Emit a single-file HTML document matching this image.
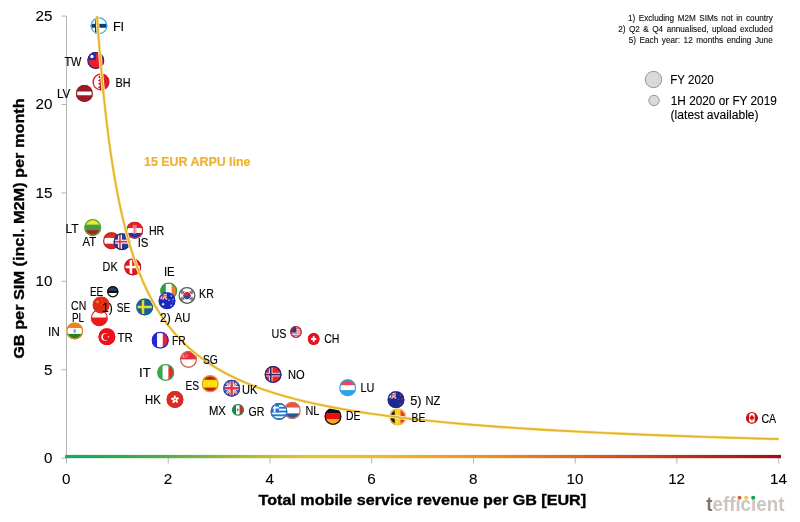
<!DOCTYPE html>
<html><head><meta charset="utf-8"><title>GB per SIM vs revenue per GB</title>
<style>html,body{margin:0;padding:0;background:#fff}svg{display:block;will-change:transform}text{font-family:"Liberation Sans",sans-serif}</style></head><body>
<svg width="800" height="522" viewBox="0 0 800 522">
<defs><clipPath id="c"><circle r="10"/></clipPath>
<linearGradient id="g" x1="66" x2="781" y1="0" y2="0" gradientUnits="userSpaceOnUse">
<stop offset="0" stop-color="#16a85e"/>
<stop offset="0.07" stop-color="#2ca854"/>
<stop offset="0.14" stop-color="#56ac46"/>
<stop offset="0.21" stop-color="#8cb43e"/>
<stop offset="0.28" stop-color="#c0bc36"/>
<stop offset="0.34" stop-color="#e2c434"/>
<stop offset="0.43" stop-color="#f2ba2c"/>
<stop offset="0.5" stop-color="#f0a828"/>
<stop offset="0.58" stop-color="#e89428"/>
<stop offset="0.71" stop-color="#d86a22"/>
<stop offset="0.85" stop-color="#c2341a"/>
<stop offset="1" stop-color="#a00c18"/>
</linearGradient><filter id="soft" x="-5%" y="-5%" width="110%" height="110%"><feGaussianBlur stdDeviation="0.35"/></filter></defs>
<rect width="800" height="522" fill="#fff"/>
<path d="M66.5,16V463.5" stroke="#b4b4b4" stroke-width="1" fill="none"/>
<path d="M61.5,458.1H66.5" stroke="#b4b4b4" stroke-width="1"/>
<path d="M61.5,369.7H66.5" stroke="#b4b4b4" stroke-width="1"/>
<path d="M61.5,281.3H66.5" stroke="#b4b4b4" stroke-width="1"/>
<path d="M61.5,192.9H66.5" stroke="#b4b4b4" stroke-width="1"/>
<path d="M61.5,104.5H66.5" stroke="#b4b4b4" stroke-width="1"/>
<path d="M61.5,16.1H66.5" stroke="#b4b4b4" stroke-width="1"/>
<path d="M168.2,458V463.5" stroke="#b4b4b4" stroke-width="1"/>
<path d="M270.0,458V463.5" stroke="#b4b4b4" stroke-width="1"/>
<path d="M371.7,458V463.5" stroke="#b4b4b4" stroke-width="1"/>
<path d="M473.5,458V463.5" stroke="#b4b4b4" stroke-width="1"/>
<path d="M575.2,458V463.5" stroke="#b4b4b4" stroke-width="1"/>
<path d="M676.9,458V463.5" stroke="#b4b4b4" stroke-width="1"/>
<path d="M778.7,458V463.5" stroke="#b4b4b4" stroke-width="1"/>
<rect x="65.2" y="454.9" width="715.8" height="3.3" fill="url(#g)"/>
<g font-size="15.2" fill="#000" stroke="#000" stroke-width="0.1">
<text x="52.5" y="463.0" text-anchor="end">0</text>
<text x="52.5" y="374.6" text-anchor="end">5</text>
<text x="52.5" y="286.2" text-anchor="end">10</text>
<text x="52.5" y="197.8" text-anchor="end">15</text>
<text x="52.5" y="109.4" text-anchor="end">20</text>
<text x="52.5" y="21.0" text-anchor="end">25</text>
<text x="66.2" y="483.6" text-anchor="middle">0</text>
<text x="167.9" y="483.6" text-anchor="middle">2</text>
<text x="269.7" y="483.6" text-anchor="middle">4</text>
<text x="371.4" y="483.6" text-anchor="middle">6</text>
<text x="473.2" y="483.6" text-anchor="middle">8</text>
<text x="574.9" y="483.6" text-anchor="middle">10</text>
<text x="676.6" y="483.6" text-anchor="middle">12</text>
<text x="778.4" y="483.6" text-anchor="middle">14</text>
</g>
<text x="258.6" y="504.5" font-size="15" font-weight="bold" fill="#000" stroke="#000" stroke-width="0.35" textLength="327.5" lengthAdjust="spacingAndGlyphs">Total mobile service revenue per GB [EUR]</text>
<text transform="translate(24.2,358.8) rotate(-90)" font-size="15.3" font-weight="bold" fill="#000" stroke="#000" stroke-width="0.35" textLength="260.5" lengthAdjust="spacingAndGlyphs">GB per SIM (incl. M2M) per month</text>
<g font-size="8.2" fill="#111" stroke="#111" stroke-width="0.12" text-anchor="end">
<text x="772.8" y="21.00" textLength="144.8" lengthAdjust="spacingAndGlyphs" word-spacing="1.2">1) Excluding M2M SIMs not in country</text>
<text x="772.8" y="31.75" textLength="154.6" lengthAdjust="spacingAndGlyphs" word-spacing="1.2">2) Q2 &amp; Q4 annualised, upload excluded</text>
<text x="772.8" y="42.50" textLength="144.1" lengthAdjust="spacingAndGlyphs" word-spacing="1.2">5) Each year: 12 months ending June</text>
</g>
<circle cx="653.5" cy="79.5" r="8.2" fill="#d9d9d9" stroke="#8c8c8c" stroke-width="0.9"/>
<circle cx="654" cy="100.5" r="5.2" fill="#d9d9d9" stroke="#8c8c8c" stroke-width="0.9"/>
<g font-size="12.3" fill="#000" stroke="#000" stroke-width="0.12">
<text x="670.3" y="83.8" textLength="43.5" lengthAdjust="spacingAndGlyphs">FY 2020</text>
<text x="670.8" y="105.0" textLength="106" lengthAdjust="spacingAndGlyphs">1H 2020 or FY 2019</text>
<text x="670.6" y="119.4" textLength="88" lengthAdjust="spacingAndGlyphs">(latest available)</text>
</g>
<text x="144" y="166.1" font-size="12.2" font-weight="bold" fill="#f0b22c" stroke="#f0b22c" stroke-width="0.2" textLength="106.5" lengthAdjust="spacingAndGlyphs">15 EUR ARPU line</text>
<g filter="url(#soft)">
<g transform="translate(99.0,25.8) scale(0.850)"><g clip-path="url(#c)"><rect x="-10" y="-10" width="20" height="20" fill="#fff"/><rect x="-10" y="-2.3" width="20" height="4.6" fill="#0b3c80"/><rect x="-4.699999999999999" y="-10" width="4.6" height="20" fill="#0b3c80"/></g><circle r="9.26" fill="none" stroke="#3fa8dc" stroke-width="1.47"/></g>
<g transform="translate(95.8,60.4) scale(0.850)"><g clip-path="url(#c)"><rect x="-10" y="-10" width="20" height="20" fill="#ee1c25"/><rect x="-10" y="-10" width="10" height="9.5" fill="#2a2a9c"/><circle cx="-4.6" cy="-4.6" r="2.0" fill="#fff"/></g><circle r="9.26" fill="none" stroke="#2a2a9c" stroke-width="1.47"/></g>
<g transform="translate(101.0,82.1) scale(0.850)"><g clip-path="url(#c)"><rect x="-10" y="-10" width="20" height="20" fill="#d8202c"/><path d="M-10,-10H-3.6L-0.8,-8.0L-3.6,-6.0L-0.8,-4.0L-3.6,-2.0L-0.8,0.0L-3.6,2.0L-0.8,4.0L-3.6,6.0L-0.8,8.0L-3.6,10.0H-10Z" fill="#fff"/></g><circle r="9.26" fill="none" stroke="#d8202c" stroke-width="1.47"/></g>
<g transform="translate(84.4,93.4) scale(0.850)"><g clip-path="url(#c)"><rect x="-10" y="-10" width="20" height="20" fill="#9c1a28"/><rect x="-10" y="-2.2" width="20" height="4.4" fill="#fff"/></g><circle r="9.26" fill="none" stroke="#9c1a28" stroke-width="1.47"/></g>
<g transform="translate(92.7,227.5) scale(0.850)"><g clip-path="url(#c)"><rect x="-10" y="-10.00" width="20" height="6.90" fill="#f4e624"/><rect x="-10" y="-3.40" width="20" height="6.70" fill="#3f9e44"/><rect x="-10" y="3.00" width="20" height="7.30" fill="#a8242c"/></g><circle r="9.26" fill="none" stroke="#4cae3c" stroke-width="1.47"/></g>
<g transform="translate(111.5,240.8) scale(0.850)"><g clip-path="url(#c)"><rect x="-10" y="-10.00" width="20" height="6.90" fill="#de3018"/><rect x="-10" y="-3.40" width="20" height="7.10" fill="#fff"/><rect x="-10" y="3.40" width="20" height="6.90" fill="#d62222"/></g><circle r="9.26" fill="none" stroke="#bc261c" stroke-width="1.47"/></g>
<g transform="translate(122.0,241.7) scale(0.850)"><g clip-path="url(#c)"><rect x="-10" y="-10" width="20" height="20" fill="#1e3c9c"/><rect x="-10" y="-2.4" width="20" height="4.8" fill="#f2e2ea"/><rect x="-4.8" y="-10" width="4.8" height="20" fill="#f2e2ea"/><rect x="-10" y="-0.9" width="20" height="1.8" fill="#dc3040"/><rect x="-3.3" y="-10" width="1.8" height="20" fill="#dc3040"/></g><circle r="9.26" fill="none" stroke="#1c2c84" stroke-width="1.47"/></g>
<g transform="translate(134.7,230.2) scale(0.850)"><g clip-path="url(#c)"><rect x="-10" y="-10.00" width="20" height="7.90" fill="#dc2428"/><rect x="-10" y="-2.40" width="20" height="5.90" fill="#fff"/><rect x="-10" y="3.20" width="20" height="7.10" fill="#22349c"/><rect x="-2.4" y="-2.4" width="4.8" height="6.2" rx="1" fill="#f4b8bc"/><rect x="-2.4" y="-6.2" width="4.8" height="3.8" fill="#e67478"/><rect x="-0.8" y="-2.4" width="1.6" height="6.2" fill="#e8848c"/></g><circle r="9.26" fill="none" stroke="#d8242c" stroke-width="1.47"/></g>
<g transform="translate(132.7,267.0) scale(0.850)"><g clip-path="url(#c)"><rect x="-10" y="-10" width="20" height="20" fill="#e41418"/><rect x="-10" y="-1.5" width="20" height="3.0" fill="#fff"/><rect x="-3.6" y="-10" width="3.0" height="20" fill="#fff"/></g><circle r="9.26" fill="none" stroke="#d41418" stroke-width="1.47"/></g>
<g transform="translate(112.8,291.7) scale(0.570)"><g clip-path="url(#c)"><rect x="-10" y="-10.00" width="20" height="7.70" fill="#1c3c84"/><rect x="-10" y="-2.60" width="20" height="5.30" fill="#111"/><rect x="-10" y="2.40" width="20" height="7.90" fill="#fff"/></g><circle r="8.90" fill="none" stroke="#111" stroke-width="2.19"/></g>
<g transform="translate(99.3,317.7) scale(0.850)"><g clip-path="url(#c)"><rect x="-10" y="-10.00" width="20" height="10.10" fill="#fff"/><rect x="-10" y="-0.20" width="20" height="10.50" fill="#f41418"/></g><circle r="9.26" fill="none" stroke="#e0242c" stroke-width="1.47"/></g>
<g transform="translate(101.1,305.1) scale(0.850)"><g clip-path="url(#c)"><rect x="-10" y="-10" width="20" height="20" fill="#de2c14"/><polygon points="-4.20,-6.30 -3.66,-4.74 -2.01,-4.71 -3.33,-3.72 -2.85,-2.14 -4.20,-3.08 -5.55,-2.14 -5.07,-3.72 -6.39,-4.71 -4.74,-4.74" fill="#f0a028"/><polygon points="0.20,-7.80 0.39,-7.26 0.96,-7.25 0.50,-6.90 0.67,-6.35 0.20,-6.68 -0.27,-6.35 -0.10,-6.90 -0.56,-7.25 0.01,-7.26" fill="#f09028"/><polygon points="2.20,-5.60 2.39,-5.06 2.96,-5.05 2.50,-4.70 2.67,-4.15 2.20,-4.48 1.73,-4.15 1.90,-4.70 1.44,-5.05 2.01,-5.06" fill="#f09028"/><polygon points="2.20,-2.60 2.39,-2.06 2.96,-2.05 2.50,-1.70 2.67,-1.15 2.20,-1.48 1.73,-1.15 1.90,-1.70 1.44,-2.05 2.01,-2.06" fill="#f09028"/><polygon points="0.20,-0.60 0.39,-0.06 0.96,-0.05 0.50,0.30 0.67,0.85 0.20,0.52 -0.27,0.85 -0.10,0.30 -0.56,-0.05 0.01,-0.06" fill="#f09028"/></g><circle r="9.26" fill="none" stroke="#d8301c" stroke-width="1.47"/></g>
<g transform="translate(74.7,331.0) scale(0.850)"><g clip-path="url(#c)"><rect x="-10" y="-10.00" width="20" height="6.90" fill="#f08418"/><rect x="-10" y="-3.40" width="20" height="7.10" fill="#fff"/><rect x="-10" y="3.40" width="20" height="6.90" fill="#228424"/><ellipse rx="1.5" ry="2.3" fill="#909cbc"/></g><circle r="9.26" fill="none" stroke="#e48a2c" stroke-width="1.47"/></g>
<g transform="translate(106.9,336.8) scale(0.850)"><g clip-path="url(#c)"><rect x="-10" y="-10" width="20" height="20" fill="#f0101a"/><circle cx="-2.2" cy="0.2" r="4.3" fill="#fff"/><circle cx="-1.0" cy="0.2" r="3.7" fill="#f0101a"/><polygon points="3.04,-0.30 2.29,0.26 2.56,1.15 1.80,0.62 1.04,1.15 1.31,0.26 0.56,-0.30 1.49,-0.32 1.80,-1.20 2.11,-0.32" fill="#fff"/></g><circle r="9.26" fill="none" stroke="#f0101a" stroke-width="1.47"/></g>
<g transform="translate(144.7,307.0) scale(0.850)"><g clip-path="url(#c)"><rect x="-10" y="-10" width="20" height="20" fill="#14609c"/><rect x="-10" y="-1.5" width="20" height="3.0" fill="#f0d830"/><rect x="-3.5" y="-10" width="3.0" height="20" fill="#f0d830"/></g><circle r="9.26" fill="none" stroke="#14609c" stroke-width="1.47"/></g>
<g transform="translate(168.7,291.1) scale(0.850)"><g clip-path="url(#c)"><rect y="-10" x="-10.00" height="20" width="6.90" fill="#2f9c3c"/><rect y="-10" x="-3.40" height="20" width="7.10" fill="#fff"/><rect y="-10" x="3.40" height="20" width="6.90" fill="#f27c28"/></g><circle r="9.26" fill="none" stroke="#36a044" stroke-width="1.47"/></g>
<g transform="translate(167.0,300.7) scale(0.850)"><g clip-path="url(#c)"><rect x="-10" y="-10" width="20" height="20" fill="#1c2cbc"/><g transform="translate(-10,-10)"><rect width="10" height="8.5" fill="#1c2cbc"/><path d="M0,0L10,8.5M10,0L0,8.5" stroke="#fff" stroke-width="1.87"/><path d="M0,0L10,8.5M10,0L0,8.5" stroke="#e03040" stroke-width="0.68"/><path d="M5.0,0V8.5M0,4.25H10" stroke="#fff" stroke-width="2.89"/><path d="M5.0,0V8.5M0,4.25H10" stroke="#e03040" stroke-width="1.53"/></g><polygon points="-4.60,2.20 -4.17,3.30 -3.04,2.95 -3.63,3.98 -2.65,4.65 -3.82,4.82 -3.73,6.00 -4.60,5.20 -5.47,6.00 -5.38,4.82 -6.55,4.65 -5.57,3.98 -6.16,2.95 -5.03,3.30" fill="#fff"/><polygon points="5.00,-6.70 5.24,-6.10 5.86,-6.29 5.54,-5.72 6.07,-5.36 5.43,-5.26 5.48,-4.61 5.00,-5.05 4.52,-4.61 4.57,-5.26 3.93,-5.36 4.46,-5.72 4.14,-6.29 4.76,-6.10" fill="#fff"/><polygon points="2.40,-1.70 2.64,-1.10 3.26,-1.29 2.94,-0.72 3.47,-0.36 2.83,-0.26 2.88,0.39 2.40,-0.05 1.92,0.39 1.97,-0.26 1.33,-0.36 1.86,-0.72 1.54,-1.29 2.16,-1.10" fill="#fff"/><polygon points="7.20,-2.60 7.42,-2.05 7.98,-2.22 7.69,-1.71 8.17,-1.38 7.59,-1.29 7.63,-0.70 7.20,-1.10 6.77,-0.70 6.81,-1.29 6.23,-1.38 6.71,-1.71 6.42,-2.22 6.98,-2.05" fill="#fff"/><polygon points="5.00,4.40 5.26,5.06 5.94,4.85 5.58,5.47 6.17,5.87 5.47,5.97 5.52,6.68 5.00,6.20 4.48,6.68 4.53,5.97 3.83,5.87 4.42,5.47 4.06,4.85 4.74,5.06" fill="#fff"/><polygon points="6.20,0.90 6.35,1.28 6.75,1.16 6.54,1.52 6.88,1.76 6.47,1.82 6.50,2.23 6.20,1.95 5.90,2.23 5.93,1.82 5.52,1.76 5.86,1.52 5.65,1.16 6.05,1.28" fill="#fff"/></g><circle r="9.26" fill="none" stroke="#1c2cbc" stroke-width="1.47"/></g>
<g transform="translate(187.0,295.5) scale(0.850)"><g clip-path="url(#c)"><rect x="-10" y="-10" width="20" height="20" fill="#fff"/><path d="M-4.3,0A4.3,4.3 0 0 1 4.3,0Z" fill="#e02838" transform="rotate(30)"/><path d="M-4.3,0A4.3,4.3 0 0 0 4.3,0Z" fill="#2848a8" transform="rotate(30)"/><circle cx="-2.15" cy="0" r="2.15" fill="#e02838" transform="rotate(30)"/><circle cx="2.15" cy="0" r="2.15" fill="#2848a8" transform="rotate(30)"/><g transform="rotate(35)"><path d="M5.4,-2V2M6.6,-2V2M7.8,-2V2" stroke="#222" stroke-width="0.8"/></g><g transform="rotate(145)"><path d="M5.4,-2V2M6.6,-2V2M7.8,-2V2" stroke="#222" stroke-width="0.8"/></g><g transform="rotate(215)"><path d="M5.4,-2V2M6.6,-2V2M7.8,-2V2" stroke="#222" stroke-width="0.8"/></g><g transform="rotate(325)"><path d="M5.4,-2V2M6.6,-2V2M7.8,-2V2" stroke="#222" stroke-width="0.8"/></g></g><circle r="9.26" fill="none" stroke="#555" stroke-width="1.47"/></g>
<g transform="translate(160.2,340.2) scale(0.850)"><g clip-path="url(#c)"><rect y="-10" x="-10.00" height="20" width="6.70" fill="#2828d8"/><rect y="-10" x="-3.60" height="20" width="6.90" fill="#fff"/><rect y="-10" x="3.00" height="20" width="7.30" fill="#ec2030"/></g><circle r="9.26" fill="none" stroke="#2828d8" stroke-width="1.47"/></g>
<g transform="translate(188.5,359.5) scale(0.850)"><g clip-path="url(#c)"><rect x="-10" y="-10.00" width="20" height="10.30" fill="#ea2c3c"/><rect x="-10" y="0.00" width="20" height="10.30" fill="#fff"/><circle cx="-5.0" cy="-4.6" r="2.4" fill="#fff"/><circle cx="-4.0" cy="-4.6" r="2.2" fill="#ea2c3c"/><circle cx="-2.6" cy="-6.0" r="0.5" fill="#fff"/><circle cx="-1.2" cy="-4.8" r="0.5" fill="#fff"/><circle cx="-1.8" cy="-3.2" r="0.5" fill="#fff"/><circle cx="-3.4" cy="-3.2" r="0.5" fill="#fff"/><circle cx="-4.0" cy="-4.8" r="0.5" fill="#fff"/></g><circle r="9.26" fill="none" stroke="#c8604c" stroke-width="1.47"/></g>
<g transform="translate(165.7,372.5) scale(0.850)"><g clip-path="url(#c)"><rect y="-10" x="-10.00" height="20" width="6.70" fill="#3aa84c"/><rect y="-10" x="-3.60" height="20" width="7.10" fill="#fff"/><rect y="-10" x="3.20" height="20" width="7.10" fill="#e42c2c"/></g><circle r="9.26" fill="none" stroke="#3aa84c" stroke-width="1.47"/></g>
<g transform="translate(210.2,383.8) scale(0.850)"><g clip-path="url(#c)"><rect x="-10" y="-10.00" width="20" height="5.60" fill="#c41c10"/><rect x="-10" y="-4.70" width="20" height="9.40" fill="#fce010"/><rect x="-10" y="4.40" width="20" height="5.90" fill="#c41c10"/></g><circle r="9.26" fill="none" stroke="#ea9a24" stroke-width="1.47"/></g>
<g transform="translate(231.7,388.2) scale(0.850)"><g clip-path="url(#c)"><rect x="-10" y="-10" width="20" height="20" fill="#3446a4"/><path d="M-10,-10L10,10M10,-10L-10,10" stroke="#f0e4ec" stroke-width="2.8"/><path d="M-10,-10L10,10M10,-10L-10,10" stroke="#dc4858" stroke-width="1.0"/><path d="M0,-10V10M-10,0H10" stroke="#f4e8ee" stroke-width="5.0"/><path d="M0,-10V10M-10,0H10" stroke="#dc3c4c" stroke-width="2.8"/></g><circle r="9.26" fill="none" stroke="#3446a4" stroke-width="1.47"/></g>
<g transform="translate(175.0,399.5) scale(0.850)"><g clip-path="url(#c)"><rect x="-10" y="-10" width="20" height="20" fill="#de2c20"/><path d="M0,0C-2.2,-1.4 -2.2,-4.0 0,-5 C1.5,-3.6 1.3,-1.4 0,0Z" fill="#fff" transform="rotate(0)"/><path d="M0,0C-2.2,-1.4 -2.2,-4.0 0,-5 C1.5,-3.6 1.3,-1.4 0,0Z" fill="#fff" transform="rotate(72)"/><path d="M0,0C-2.2,-1.4 -2.2,-4.0 0,-5 C1.5,-3.6 1.3,-1.4 0,0Z" fill="#fff" transform="rotate(144)"/><path d="M0,0C-2.2,-1.4 -2.2,-4.0 0,-5 C1.5,-3.6 1.3,-1.4 0,0Z" fill="#fff" transform="rotate(216)"/><path d="M0,0C-2.2,-1.4 -2.2,-4.0 0,-5 C1.5,-3.6 1.3,-1.4 0,0Z" fill="#fff" transform="rotate(288)"/><circle r="0.9" fill="#de2c20"/></g><circle r="9.26" fill="none" stroke="#de2c20" stroke-width="1.47"/></g>
<g transform="translate(238.0,409.9) scale(0.590)"><g clip-path="url(#c)"><rect y="-10" x="-10.00" height="20" width="7.10" fill="#148848"/><rect y="-10" x="-3.20" height="20" width="6.10" fill="#fff"/><rect y="-10" x="2.60" height="20" width="7.70" fill="#d22836"/><ellipse cx="-0.3" rx="1.3" ry="2.4" fill="#7a6040"/></g><circle r="8.94" fill="none" stroke="#1c8a4a" stroke-width="2.12"/></g>
<g transform="translate(273.1,374.6) scale(0.850)"><g clip-path="url(#c)"><rect x="-10" y="-10" width="20" height="20" fill="#e8242e"/><rect x="-10" y="-2.1" width="20" height="4.2" fill="#f6dce0"/><rect x="-4.9" y="-10" width="4.2" height="20" fill="#f6dce0"/><rect x="-10" y="-1.0" width="20" height="2.0" fill="#22306c"/><rect x="-3.8" y="-10" width="2.0" height="20" fill="#22306c"/></g><circle r="9.26" fill="none" stroke="#1c2c7c" stroke-width="1.47"/></g>
<g transform="translate(292.3,410.5) scale(0.850)"><g clip-path="url(#c)"><rect x="-10" y="-10.00" width="20" height="6.90" fill="#e25444"/><rect x="-10" y="-3.40" width="20" height="7.10" fill="#fff"/><rect x="-10" y="3.40" width="20" height="6.90" fill="#28589c"/></g><circle r="9.26" fill="none" stroke="#e0664c" stroke-width="1.47"/></g>
<g transform="translate(279.0,411.5) scale(0.850)"><g clip-path="url(#c)"><rect x="-10" y="-10" width="20" height="20" fill="#fff"/><rect x="-10" y="-10.00" width="20" height="2.3" fill="#2c78cc"/><rect x="-10" y="-5.56" width="20" height="2.3" fill="#2c78cc"/><rect x="-10" y="-1.11" width="20" height="2.3" fill="#2c78cc"/><rect x="-10" y="3.33" width="20" height="2.3" fill="#2c78cc"/><rect x="-10" y="7.78" width="20" height="2.3" fill="#2c78cc"/><rect x="-10" y="-10" width="10" height="11.1" fill="#2c78cc"/><path d="M-5.2,-10V1.1M-10,-4.5H0" stroke="#fff" stroke-width="2.0"/></g><circle r="9.26" fill="none" stroke="#2870bc" stroke-width="1.47"/></g>
<g transform="translate(296.0,332.0) scale(0.590)"><g clip-path="url(#c)"><rect x="-10" y="-10" width="20" height="20" fill="#fff"/><rect x="-10" y="-10.00" width="20" height="1.54" fill="#d4505e"/><rect x="-10" y="-6.92" width="20" height="1.54" fill="#d4505e"/><rect x="-10" y="-3.84" width="20" height="1.54" fill="#d4505e"/><rect x="-10" y="-0.76" width="20" height="1.54" fill="#d4505e"/><rect x="-10" y="2.32" width="20" height="1.54" fill="#d4505e"/><rect x="-10" y="5.40" width="20" height="1.54" fill="#d4505e"/><rect x="-10" y="8.48" width="20" height="1.54" fill="#d4505e"/><rect x="-10" y="-10" width="10.5" height="10.8" fill="#34347c"/></g><circle r="8.94" fill="none" stroke="#a82c3c" stroke-width="2.12"/></g>
<g transform="translate(313.7,339.0) scale(0.590)"><g clip-path="url(#c)"><rect x="-10" y="-10" width="20" height="20" fill="#e0141c"/><path d="M0,-4.7V4.7M-4.4,0H4.4" stroke="#fff" stroke-width="3.2"/></g><circle r="8.94" fill="none" stroke="#e0141c" stroke-width="2.12"/></g>
<g transform="translate(347.7,387.8) scale(0.850)"><g clip-path="url(#c)"><rect x="-10" y="-10.00" width="20" height="7.40" fill="#e24a5a"/><rect x="-10" y="-2.90" width="20" height="5.90" fill="#fff"/><rect x="-10" y="2.70" width="20" height="7.60" fill="#2ca4e8"/></g><circle r="9.26" fill="none" stroke="#34a4ea" stroke-width="1.47"/></g>
<g transform="translate(396.0,399.7) scale(0.850)"><g clip-path="url(#c)"><rect x="-10" y="-10" width="20" height="20" fill="#1c2c8c"/><g transform="translate(-10,-10)"><rect width="10" height="8.5" fill="#1c2c8c"/><path d="M0,0L10,8.5M10,0L0,8.5" stroke="#fff" stroke-width="1.87"/><path d="M0,0L10,8.5M10,0L0,8.5" stroke="#e03040" stroke-width="0.68"/><path d="M5.0,0V8.5M0,4.25H10" stroke="#fff" stroke-width="2.89"/><path d="M5.0,0V8.5M0,4.25H10" stroke="#e03040" stroke-width="1.53"/></g><polygon points="5.00,-6.30 5.31,-5.42 6.24,-5.40 5.49,-4.84 5.76,-3.95 5.00,-4.48 4.24,-3.95 4.51,-4.84 3.76,-5.40 4.69,-5.42" fill="#e03444"/><polygon points="3.00,-1.70 3.31,-0.82 4.24,-0.80 3.49,-0.24 3.76,0.65 3.00,0.12 2.24,0.65 2.51,-0.24 1.76,-0.80 2.69,-0.82" fill="#e03444"/><polygon points="7.20,-2.20 7.48,-1.39 8.34,-1.37 7.66,-0.85 7.91,-0.03 7.20,-0.52 6.49,-0.03 6.74,-0.85 6.06,-1.37 6.92,-1.39" fill="#e03444"/><polygon points="5.00,3.60 5.33,4.55 6.33,4.57 5.53,5.17 5.82,6.13 5.00,5.56 4.18,6.13 4.47,5.17 3.67,4.57 4.67,4.55" fill="#e03444"/></g><circle r="9.26" fill="none" stroke="#1c2c8c" stroke-width="1.47"/></g>
<g transform="translate(333.0,416.5) scale(0.850)"><g clip-path="url(#c)"><rect x="-10" y="-10.00" width="20" height="6.70" fill="#141010"/><rect x="-10" y="-3.60" width="20" height="7.10" fill="#ee1010"/><rect x="-10" y="3.20" width="20" height="7.10" fill="#f2ac22"/></g><circle r="9.26" fill="none" stroke="#1a1410" stroke-width="1.47"/></g>
<g transform="translate(397.8,417.0) scale(0.850)"><g clip-path="url(#c)"><rect y="-10" x="-10.00" height="20" width="6.70" fill="#1a1a1a"/><rect y="-10" x="-3.60" height="20" width="7.10" fill="#fad02c"/><rect y="-10" x="3.20" height="20" width="7.10" fill="#e83434"/></g><circle r="9.26" fill="none" stroke="#f8c82c" stroke-width="1.47"/></g>
<g transform="translate(751.9,417.9) scale(0.590)"><g clip-path="url(#c)"><rect y="-10" x="-10.00" height="20" width="5.70" fill="#cc1216"/><rect y="-10" x="-4.60" height="20" width="9.50" fill="#fff"/><rect y="-10" x="4.60" height="20" width="5.70" fill="#cc1216"/><path d="M0,-5.4L1.2,-3.4L2.6,-4L2.2,-1.4L3.8,-2L3.2,0.4L4.2,0.8L1.6,2.8L0.5,2.8V5.2H-0.5V2.8L-1.6,2.8L-4.2,0.8L-3.2,0.4L-3.8,-2L-2.2,-1.4L-2.6,-4L-1.2,-3.4Z" fill="#cc1216"/></g><circle r="8.94" fill="none" stroke="#cc1216" stroke-width="2.12"/></g>
</g>
<defs><path id="arpu" d="M97.02,16.00L98.04,30.26L99.06,43.62L100.07,56.18L101.09,68.00L102.11,79.14L103.13,89.67L104.14,99.62L105.16,109.05L106.18,118.00L107.20,126.50L108.21,134.59L109.23,142.29L110.25,149.63L111.27,156.64L112.28,163.33L113.30,169.74L114.32,175.87L115.34,181.75L116.35,187.39L117.37,192.80L118.39,198.00L119.40,203.00L120.42,207.81L121.44,212.44L122.46,216.91L123.47,221.21L124.49,225.37L125.51,229.38L126.53,233.25L127.54,237.00L128.56,240.62L129.58,244.13L130.60,247.52L131.61,250.81L132.63,254.00L133.65,257.09L134.67,260.09L135.68,263.00L136.70,265.83L137.72,268.57L138.74,271.24L139.75,273.83L140.77,276.36L141.79,278.81L142.81,281.20L143.82,283.53L144.84,285.79L145.86,288.00L146.87,290.15L147.89,292.25L148.91,294.30L149.93,296.29L150.94,298.24L151.96,300.14L152.98,302.00L154.00,303.81L155.01,305.59L156.03,307.32L157.05,309.01L158.07,310.67L159.08,312.29L160.10,313.87L161.12,315.42L162.14,316.94L163.15,318.42L164.17,319.88L165.19,321.30L166.21,322.69L167.22,324.06L168.24,325.40L170.78,328.63L173.33,331.71L175.87,334.65L178.41,337.45L180.96,340.13L183.50,342.70L186.04,345.15L188.59,347.50L191.13,349.76L193.67,351.92L196.22,354.00L198.76,356.00L201.31,357.92L203.85,359.78L206.39,361.56L208.94,363.29L211.48,364.95L214.02,366.55L216.57,368.10L219.11,369.60L221.65,371.05L224.20,372.45L226.74,373.81L229.28,375.12L231.83,376.40L234.37,377.64L236.91,378.84L239.46,380.00L242.00,381.13L244.54,382.23L247.09,383.30L249.63,384.33L252.18,385.34L254.72,386.32L257.26,387.28L259.81,388.21L262.35,389.12L264.89,390.00L267.44,390.86L269.98,391.70L272.52,392.52L275.07,393.32L277.61,394.10L280.15,394.86L282.70,395.60L285.24,396.33L287.78,397.03L290.33,397.73L292.87,398.40L295.41,399.07L297.96,399.71L300.50,400.35L303.05,400.97L305.59,401.57L308.13,402.17L310.68,402.75L313.22,403.32L315.76,403.88L318.31,404.42L320.85,404.96L323.39,405.49L336.11,407.96L348.83,410.22L361.55,412.28L374.26,414.17L386.98,415.90L399.70,417.51L412.42,419.00L425.13,420.38L437.85,421.67L450.57,422.87L463.29,424.00L476.00,425.06L488.72,426.05L501.44,426.98L514.16,427.86L526.87,428.70L539.59,429.48L552.31,430.23L565.03,430.94L577.74,431.61L590.46,432.25L603.18,432.86L615.90,433.44L628.61,434.00L641.33,434.53L654.05,435.04L666.77,435.53L679.48,435.99L692.20,436.44L704.92,436.87L717.64,437.28L730.35,437.68L743.07,438.06L755.79,438.43L768.51,438.78L778.68,439.06"/></defs>
<g fill="none" stroke-linejoin="round"><use href="#arpu" stroke="#fdf5cc" stroke-width="3.4"/>
<use href="#arpu" stroke="#f3d662" stroke-width="2.3"/>
<use href="#arpu" stroke="#e3b032" stroke-width="1.4"/></g>
<g font-size="12.4" fill="#000" stroke="#000" stroke-width="0.15">
<text x="112.9" y="30.9" textLength="11.2" lengthAdjust="spacingAndGlyphs">FI</text>
<text x="64.4" y="65.6" textLength="17.1" lengthAdjust="spacingAndGlyphs">TW</text>
<text x="115.4" y="87.2" textLength="15.1" lengthAdjust="spacingAndGlyphs">BH</text>
<text x="56.9" y="98.0" textLength="13.4" lengthAdjust="spacingAndGlyphs">LV</text>
<text x="65.4" y="232.7" textLength="13.2" lengthAdjust="spacingAndGlyphs">LT</text>
<text x="148.9" y="235.0" textLength="15.4" lengthAdjust="spacingAndGlyphs">HR</text>
<text x="82.6" y="245.5" textLength="13.7" lengthAdjust="spacingAndGlyphs">AT</text>
<text x="137.7" y="246.5" textLength="10.8" lengthAdjust="spacingAndGlyphs">IS</text>
<text x="102.6" y="271.4" textLength="15.0" lengthAdjust="spacingAndGlyphs">DK</text>
<text x="163.9" y="276.2" textLength="10.7" lengthAdjust="spacingAndGlyphs">IE</text>
<text x="89.9" y="296.2" textLength="13.4" lengthAdjust="spacingAndGlyphs">EE</text>
<text x="71.1" y="309.7" textLength="15.2" lengthAdjust="spacingAndGlyphs">CN</text>
<text x="71.9" y="321.7" textLength="12.1" lengthAdjust="spacingAndGlyphs">PL</text>
<text x="102.1" y="311.7" textLength="10.8" lengthAdjust="spacingAndGlyphs">1)</text>
<text x="116.7" y="311.7" textLength="13.6" lengthAdjust="spacingAndGlyphs">SE</text>
<text x="117.6" y="342.3" textLength="15.2" lengthAdjust="spacingAndGlyphs">TR</text>
<text x="160.1" y="321.7" textLength="10.7" lengthAdjust="spacingAndGlyphs">2)</text>
<text x="174.7" y="321.7" textLength="15.6" lengthAdjust="spacingAndGlyphs">AU</text>
<text x="199.1" y="298.0" textLength="14.7" lengthAdjust="spacingAndGlyphs">KR</text>
<text x="172.1" y="345.0" textLength="13.7" lengthAdjust="spacingAndGlyphs">FR</text>
<text x="47.9" y="335.8" textLength="11.9" lengthAdjust="spacingAndGlyphs">IN</text>
<text x="202.9" y="364.3" textLength="14.9" lengthAdjust="spacingAndGlyphs">SG</text>
<text x="139.1" y="377.0" textLength="11.7" lengthAdjust="spacingAndGlyphs">IT</text>
<text x="185.4" y="389.5" textLength="13.6" lengthAdjust="spacingAndGlyphs">ES</text>
<text x="145.1" y="404.2" textLength="15.7" lengthAdjust="spacingAndGlyphs">HK</text>
<text x="208.9" y="414.5" textLength="16.9" lengthAdjust="spacingAndGlyphs">MX</text>
<text x="241.9" y="394.0" textLength="15.4" lengthAdjust="spacingAndGlyphs">UK</text>
<text x="287.9" y="379.3" textLength="16.7" lengthAdjust="spacingAndGlyphs">NO</text>
<text x="248.4" y="416.2" textLength="15.9" lengthAdjust="spacingAndGlyphs">GR</text>
<text x="305.4" y="415.0" textLength="13.9" lengthAdjust="spacingAndGlyphs">NL</text>
<text x="271.4" y="337.5" textLength="14.9" lengthAdjust="spacingAndGlyphs">US</text>
<text x="324.2" y="343.3" textLength="15.3" lengthAdjust="spacingAndGlyphs">CH</text>
<text x="360.4" y="391.7" textLength="13.9" lengthAdjust="spacingAndGlyphs">LU</text>
<text x="410.2" y="404.5" textLength="11.3" lengthAdjust="spacingAndGlyphs">5)</text>
<text x="425.4" y="404.5" textLength="14.9" lengthAdjust="spacingAndGlyphs">NZ</text>
<text x="346.1" y="419.7" textLength="14.4" lengthAdjust="spacingAndGlyphs">DE</text>
<text x="411.6" y="421.6" textLength="13.7" lengthAdjust="spacingAndGlyphs">BE</text>
<text x="761.4" y="422.5" textLength="14.8" lengthAdjust="spacingAndGlyphs">CA</text>
</g>
<g font-size="19.5" font-weight="bold">
<text x="706.2" y="511.0" textLength="78.2" lengthAdjust="spacingAndGlyphs"><tspan fill="#7c776c">t</tspan><tspan fill="#cbc7bf">effıcıent</tspan></text>
</g>
<circle cx="739.5" cy="497.7" r="2.05" fill="#d9633c"/><circle cx="746.2" cy="497.7" r="2.05" fill="#f0c930"/><circle cx="753.2" cy="497.7" r="2.05" fill="#12a052"/>
</svg></body></html>
